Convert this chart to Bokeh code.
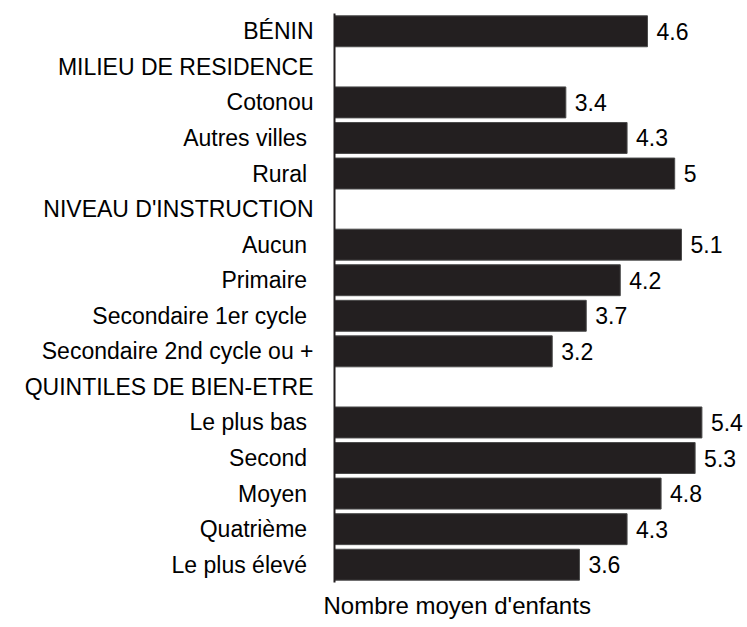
from bokeh.plotting import figure
from bokeh.models import ColumnDataSource, LabelSet, Title, FactorRange, Range1d
from bokeh.core.properties import value
from bokeh.embed import file_html
from bokeh.resources import INLINE

categories = [
    "BÉNIN",
    "MILIEU DE RESIDENCE",
    "Cotonou",
    "Autres villes ",
    "Rural ",
    "NIVEAU D'INSTRUCTION",
    "Aucun ",
    "Primaire ",
    "Secondaire 1er cycle ",
    "Secondaire 2nd cycle ou +",
    "QUINTILES DE BIEN-ETRE",
    "Le plus bas ",
    "Second ",
    "Moyen ",
    "Quatrième ",
    "Le plus élevé ",
]
values = [4.6, None, 3.4, 4.3, 5.0, None, 5.1, 4.2, 3.7, 3.2, None, 5.4, 5.3, 4.8, 4.3, 3.6]
axis_title = "Nombre moyen d'enfants"

bar_cats = [c for c, v in zip(categories, values) if v is not None]
bar_vals = [v for v in values if v is not None]
bar_labels = [f"{v:g}" for v in bar_vals]
src = ColumnDataSource(dict(cat=bar_cats, val=bar_vals, lab=bar_labels))

FONT = "Liberation Sans"
FSIZE = "23px"
DARK = "#231f20"

p = figure(
    width=747, height=627,
    y_range=FactorRange(factors=categories[::-1]),
    x_range=Range1d(0, 6.07),
    output_backend="svg", toolbar_location=None,
    min_border_left=334, min_border_right=0, min_border_top=13, min_border_bottom=45,
)
p.outline_line_color = None
p.xgrid.visible = False
p.ygrid.visible = False
p.xaxis.visible = False
p.background_fill_color = "white"
p.border_fill_color = "white"

p.hbar(y="cat", left=0, right="val", height=0.87, source=src,
       fill_color=DARK, line_color="#4a4a4a", line_width=1)

labels = LabelSet(x="val", y="cat", text="lab", source=src, x_offset=9,
                  text_baseline="middle", text_align="left",
                  text_font=value(FONT), text_font_size=value(FSIZE),
                  text_color=value("black"))
p.add_layout(labels)

ya = p.yaxis[0]
ya.axis_line_color = DARK
ya.axis_line_width = 2
ya.major_tick_line_color = None
ya.minor_tick_line_color = None
ya.major_tick_out = 0
ya.major_tick_in = 0
ya.major_label_standoff = 21
ya.major_label_text_font = FONT
ya.major_label_text_font_size = FSIZE
ya.major_label_text_color = "black"

title = Title(text=axis_title, align="left", offset=-11, standoff=14,
              text_font=FONT, text_font_size="24px", text_font_style="normal",
              text_color="black")
p.add_layout(title, "below")

open("out.html", "w").write(file_html(p, INLINE))
